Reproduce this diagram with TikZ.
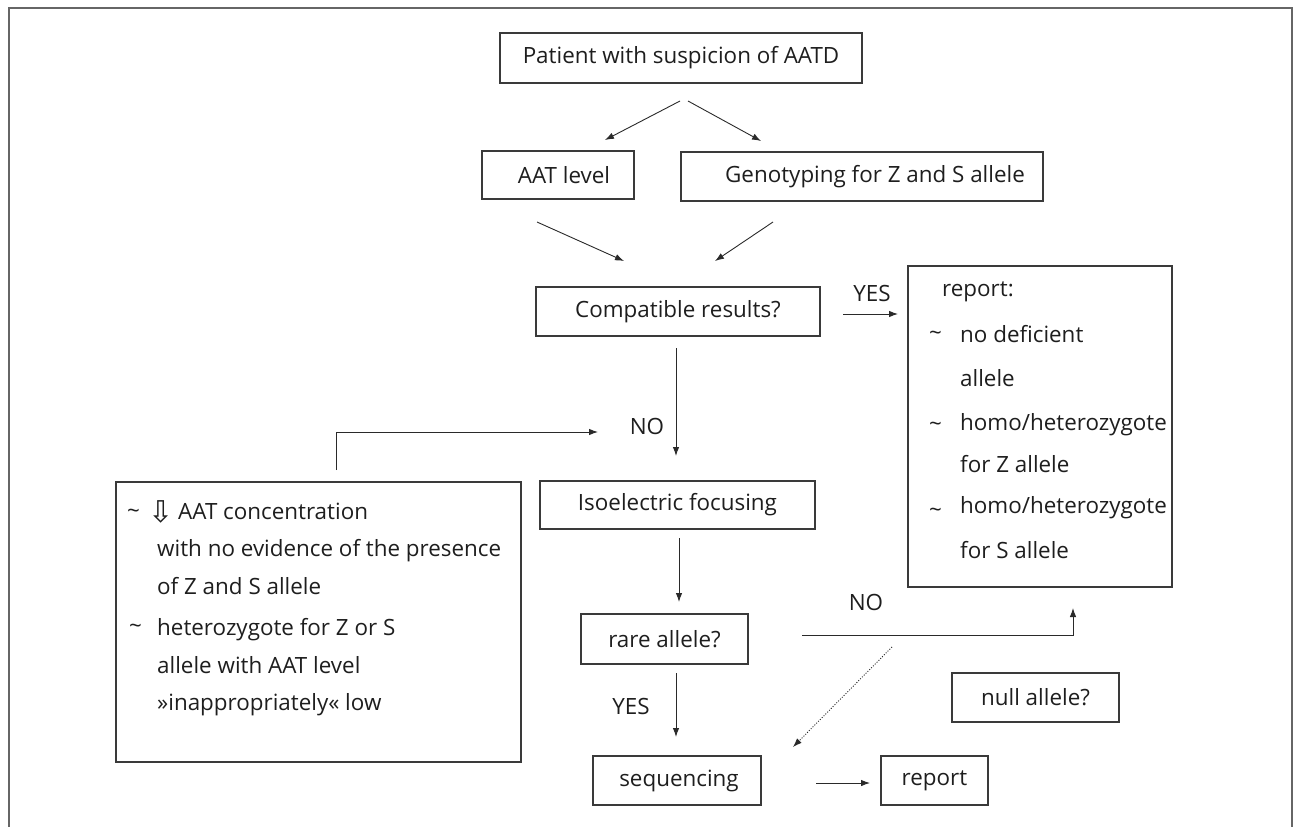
\documentclass[tikz,border=0pt]{standalone}
\usepackage{fontspec}
\setmainfont{Open Sans}
\newfontfamily\symfont{DejaVu Sans}
\usetikzlibrary{arrows.meta}
\definecolor{boxc}{HTML}{3A3A3A}
\definecolor{framec}{HTML}{666666}
\definecolor{txtc}{HTML}{1E1E1E}
\definecolor{arrc}{HTML}{2A2A2A}
\begin{document}
\begin{tikzpicture}[x=1pt,y=-1pt,
  every node/.style={font=\fontsize{22.4}{26}\selectfont, text=txtc},
  fbox/.style 2 args={draw=boxc, line width=1.3pt, rectangle, inner sep=0pt,
    minimum width=#1pt, minimum height=#2pt},
  lbl/.style={inner sep=0pt, anchor=base west},
  arr/.style={draw=arrc, line width=0.9pt, -{Latex[length=9pt,width=6.5pt]}},
  dotarr/.style={draw=arrc, line width=0.9pt, dash pattern=on 1pt off 1.6pt,
    -{Latex[length=9pt,width=6.5pt]}}]
\useasboundingbox (0,0) rectangle (1296,827);
% outer frame (open at bottom)
\draw[framec, line width=2.4pt] (9,830) -- (9,8) -- (1292,8) -- (1292,830);

% boxes
\node[fbox={362}{50}] (top) at (681,58) {Patient with suspicion of AATD};
\node[fbox={152}{48}] (aat) at (558,175) {\hspace{12pt}AAT level};
\node[fbox={362}{49}] (geno) at (862,176.5) {\hspace{26pt}Genotyping for Z and S allele};
\node[fbox={284}{49}] (compat) at (678,311.5) {Compatible results?};
\node[fbox={264}{321}] (rep) at (1040,426.5) {};
\node[fbox={405}{280}] (left) at (318.5,622) {};
\node[fbox={275}{48}] (iso) at (677.5,505) {Isoelectric focusing};
\node[fbox={167}{50}] (rare) at (664.5,639) {rare allele?};
\node[fbox={167}{49}] (null) at (1035.5,697.5) {null allele?};
\node[fbox={168}{49}] (seq) at (677,780.5) {\hspace{4pt}sequencing};
\node[fbox={107}{49}] (rep2) at (934.5,780.5) {report};

% text in report box
\node[lbl] (r0) at (942,296) {report:};
\node[lbl] (t1) at (929,340) {\textasciitilde};
\node[lbl] (r1) at (960,342) {no deficient};
\node[lbl] (r2) at (960,386) {allele};
\node[lbl] (t2) at (929,431) {\textasciitilde};
\node[lbl] (r3) at (960,430) {homo/heterozygote};
\node[lbl] (r4) at (960,472) {for Z allele};
\node[lbl] (t3) at (929,517) {\textasciitilde};
\node[lbl] (r5) at (960,513) {homo/heterozygote};
\node[lbl] (r6) at (960,558) {for S allele};

% text in left box
\node[lbl] (lt1) at (127,518) {\textasciitilde};
\node[lbl] (la) at (148,522) {\symfont\fontsize{30}{32}\selectfont ⇩};
\node[lbl] (l1) at (178,519) {AAT concentration};
\node[lbl] (l2) at (157,556) {with no evidence of the presence};
\node[lbl] (l3) at (157,594) {of Z and S allele};
\node[lbl] (lt2) at (129,633) {\textasciitilde};
\node[lbl] (l4) at (157,635) {heterozygote for Z or S};
\node[lbl] (l5) at (157,673) {allele with AAT level};
\node[lbl] (l6) at (157,710) {»inappropriately« low};

% labels on connectors
\node (yes1) at (872,293) {YES};
\node (no1) at (647,426) {NO};
\node (no2) at (866,602) {NO};
\node (yes2) at (631,706) {YES};

% connector end points
\coordinate (a1s) at (680,101); \coordinate (a1e) at (605,140);
\coordinate (a2s) at (688,101); \coordinate (a2e) at (761,141);
\coordinate (a3s) at (537,222); \coordinate (a3e) at (624,261);
\coordinate (a4s) at (773,222); \coordinate (a4e) at (715,261);
\coordinate (a5s) at (843,314); \coordinate (a5e) at (898,314);
\coordinate (a6s) at (676,348); \coordinate (a6e) at (676,456);
\coordinate (a7s) at (336,470); \coordinate (a7m) at (336,432); \coordinate (a7e) at (598,432);
\coordinate (a8s) at (679,538); \coordinate (a8e) at (679,602);
\coordinate (a9s) at (802,635); \coordinate (a9m) at (1073,635); \coordinate (a9e) at (1073,608);
\coordinate (a10s) at (676,673); \coordinate (a10e) at (676,737);
\coordinate (a11s) at (892,647); \coordinate (a11e) at (793,747);
\coordinate (a12s) at (816,783); \coordinate (a12e) at (870,783);

\draw[arr] (a1s) -- (a1e);
\draw[arr] (a2s) -- (a2e);
\draw[arr] (a3s) -- (a3e);
\draw[arr] (a4s) -- (a4e);
\draw[arr] (a5s) -- (a5e);
\draw[arr] (a6s) -- (a6e);
\draw[arr] (a7s) -- (a7m) -- (a7e);
\draw[arr] (a8s) -- (a8e);
\draw[arr] (a9s) -- (a9m) -- (a9e);
\draw[arr] (a10s) -- (a10e);
\draw[dotarr] (a11s) -- (a11e);
\draw[arr] (a12s) -- (a12e);
\end{tikzpicture}
\end{document}
